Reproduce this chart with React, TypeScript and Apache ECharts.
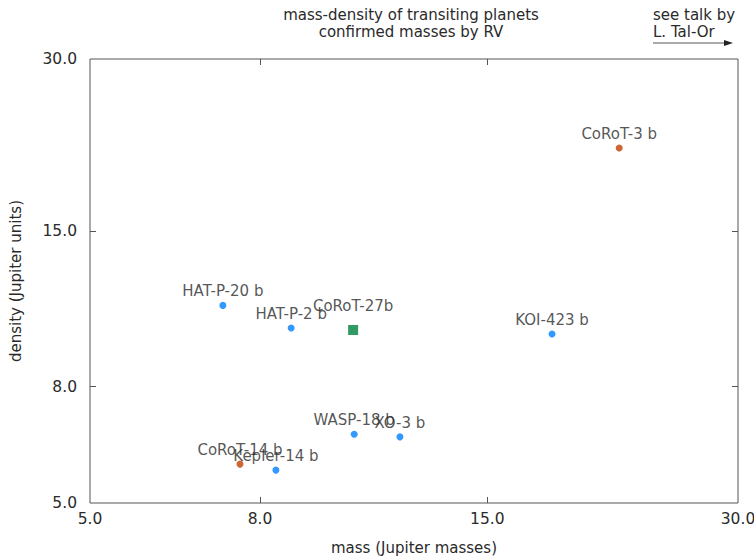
import React, { useEffect, useRef } from "react";
import * as echarts from "echarts";

const planetNames = ["HAT-P-20 b", "HAT-P-2 b", "KOI-423 b", "WASP-18 b", "XO-3 b", "Kepler-14 b"];
const planetMass = [7.22, 8.72, 17.94, 10.38, 11.78, 8.36];
const planetDensity = [11.1, 10.13, 9.89, 6.6, 6.53, 5.71];

const corotNames = ["CoRoT-3 b", "CoRoT-14 b"];
const corotMass = [21.6, 7.57];
const corotDensity = [20.95, 5.85];

const c27Names = ["CoRoT-27b"];
const c27Mass = [10.35];
const c27Density = [10.05];

const tickValues = [5, 8, 15, 30];

const FONT = "DejaVu Sans";
const TEXT = "#2a2a2a";
const FRAME = "#555555";

function pts(names: string[], xs: number[], ys: number[]) {
  return names.map((n, i) => ({ name: n, value: [xs[i], ys[i]] }));
}

export default function App() {
  const ref = useRef<HTMLDivElement>(null);
  useEffect(() => {
    if (!ref.current) return;
    const chart = echarts.init(ref.current, undefined, { renderer: "svg" });
    const fmt = (v: number) => Number(v).toFixed(1);
    const axisBase = (type: "x" | "y", pos: string, show: boolean, name?: string) => ({
      type: "log",
      logBase: 10,
      min: 5,
      max: 30,
      position: pos,
      name: name,
      nameLocation: "middle",
      nameGap: type === "x" ? 37 : 67,
      nameTextStyle: { fontFamily: FONT, fontSize: 15, color: TEXT },
      axisLine: { show: false },
      axisTick: {
        show: true,
        inside: true,
        length: 6,
        customValues: [8, 15],
        lineStyle: { color: FRAME, width: 1 },
      },
      minorTick: { show: false },
      splitLine: { show: false },
      axisLabel: {
        show: show,
        customValues: tickValues,
        formatter: fmt,
        fontFamily: FONT,
        fontSize: 15.5,
        color: TEXT,
        margin: type === "x" ? 8 : 13,
      },
    });
    chart.setOption({
      animation: false,
      backgroundColor: "#ffffff",
      grid: {
        left: 90,
        right: 16,
        top: 59,
        bottom: 53,
        show: true,
        borderColor: FRAME,
        borderWidth: 1,
        backgroundColor: "transparent",
        outerBoundsMode: "none",
        containLabel: false,
      },
      title: {
        text: "mass-density of transiting planets\nconfirmed masses by RV",
        left: 406,
        textAlign: "center",
        top: 1,
        textStyle: {
          fontFamily: FONT,
          fontSize: 15,
          fontWeight: "normal",
          color: TEXT,
          lineHeight: 17,
        },
      },
      xAxis: [
        axisBase("x", "bottom", true, "mass (Jupiter masses)"),
        axisBase("x", "top", false),
      ],
      yAxis: [
        axisBase("y", "left", true, "density (Jupiter units)"),
        axisBase("y", "right", false),
      ],
      graphic: [
        {
          type: "text",
          left: 653,
          top: 6,
          style: {
            text: "see talk by\nL. Tal-Or",
            font: `15px "${FONT}"`,
            fill: TEXT,
            lineHeight: 17,
          },
        },
        {
          type: "line",
          shape: { x1: 653, y1: 43, x2: 728, y2: 43 },
          style: { stroke: FRAME, lineWidth: 1 },
        },
        {
          type: "polygon",
          shape: { points: [[733, 43], [724, 40], [724, 46]] },
          style: { fill: "#222222" },
        },
      ],
      series: [
        {
          type: "scatter",
          xAxisIndex: 0,
          yAxisIndex: 0,
          symbol: "circle",
          symbolSize: 7,
          itemStyle: { color: "#0080ff" },
          label: {
            show: true,
            position: "top",
            distance: 3,
            formatter: "{b}",
            fontFamily: FONT,
            fontSize: 15,
            color: TEXT,
          },
          data: pts(planetNames, planetMass, planetDensity),
        },
        {
          type: "scatter",
          xAxisIndex: 0,
          yAxisIndex: 0,
          symbol: "circle",
          symbolSize: 7,
          itemStyle: { color: "#c04000" },
          label: {
            show: true,
            position: "top",
            distance: 3,
            formatter: "{b}",
            fontFamily: FONT,
            fontSize: 15,
            color: TEXT,
          },
          data: pts(corotNames, corotMass, corotDensity),
        },
        {
          type: "scatter",
          xAxisIndex: 0,
          yAxisIndex: 0,
          symbol: "rect",
          symbolSize: 10,
          itemStyle: { color: "#00803c" },
          label: {
            show: true,
            position: "top",
            distance: 12,
            formatter: "{b}",
            fontFamily: FONT,
            fontSize: 15,
            color: TEXT,
          },
          data: pts(c27Names, c27Mass, c27Density),
        },
      ],
    });
    return () => chart.dispose();
  }, []);
  return <div ref={ref} style={{ width: 754, height: 556, position: "absolute", left: 0, top: 0 }} />;
}
